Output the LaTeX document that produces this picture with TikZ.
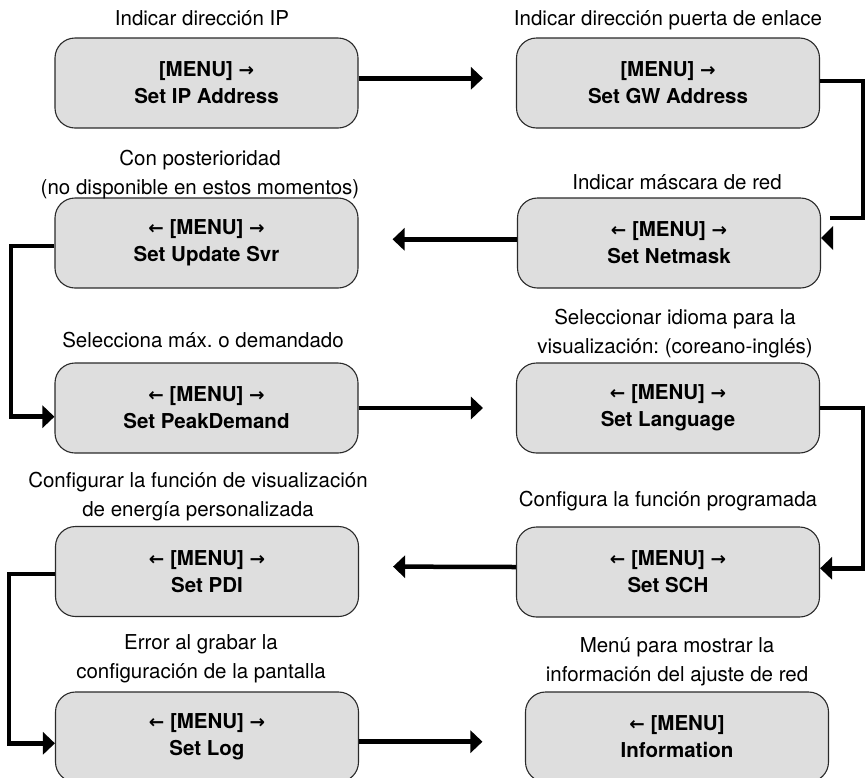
\documentclass[tikz,border=0pt]{standalone}
\usepackage{fontspec}
\setmainfont{TeX Gyre Heros}
\newfontfamily\arrowfont{DejaVu Sans}
\newcommand{\ra}{{\arrowfont\bfseries\fontsize{18.5}{18}\selectfont →}}
\newcommand{\la}{{\arrowfont\bfseries\fontsize{18.5}{18}\selectfont ←}}
\usetikzlibrary{arrows.meta}
\definecolor{boxfill}{HTML}{DEDEDE}
\definecolor{boxline}{HTML}{2A2A2A}
\frenchspacing
\begin{document}
\begin{tikzpicture}[x=1pt,y=-1pt,
  menubox/.style={draw=boxline, line width=1.1pt, fill=boxfill, rounded corners=20pt,
    minimum width=303pt, minimum height=90pt, align=center, inner sep=0pt,
    font=\fontsize{20.5}{27}\selectfont\bfseries},
  lbl/.style={align=center, inner sep=0pt, anchor=south, text depth=0pt,
    font=\fontsize{20.5}{29.5}\selectfont},
  link/.style={line width=4.5pt, -{Triangle[length=12pt,width=22pt]}},
  plainlink/.style={line width=4.5pt}]
\useasboundingbox (0,0) rectangle (866,777);

% boxes
\node[menubox] (ip)   at (206.5,83)  {[MENU] \ra\\Set IP Address};
\node[menubox] (gw)   at (668,83)    {[MENU] \ra\\Set GW Address};
\node[menubox] (ns)   at (669,243)   {\la\ [MENU] \ra\\Set Netmask};
\node[menubox] (us)   at (206.5,243) {\la\ [MENU] \ra\\Set Update Svr};
\node[menubox] (pd)   at (206.5,408) {\la\ [MENU] \ra\\Set PeakDemand};
\node[menubox] (lang) at (668,408)   {\la\ [MENU] \ra\\Set Language};
\node[menubox] (sch)  at (668,572)   {\la\ [MENU] \ra\\Set SCH};
\node[menubox] (pdi)  at (207,571.5) {\la\ [MENU] \ra\\Set PDI};
\node[menubox] (log)  at (207,737)   {\la\ [MENU] \ra\\Set Log};
\node[menubox] (info) at (677,737)   {\la\ [MENU]\\Information};

% labels
\node[lbl] (t1) at (202,26)  {Indicar dirección IP};
\node[lbl] (t2) at (668,26)  {Indicar dirección puerta de enlace};
\node[lbl] (t3) at (677,190) {Indicar máscara de red};
\node[lbl] (t4) at (200,195) {Con posterioridad\\(no disponible en estos momentos)};
\node[lbl] (t5) at (203,348) {Selecciona máx. o demandado};
\node[lbl] (t6) at (675,354) {Seleccionar idioma para la\\visualización: (coreano-inglés)};
\node[lbl] (t7) at (668,507) {Configura la función programada};
\node[lbl] (t8) at (198,517) {Configurar la función de visualización\\de energía personalizada};
\node[lbl] (t9) at (201,679) {Error al grabar la\\configuración de la pantalla};
\node[lbl] (t10) at (677,682) {Menú para mostrar la\\información del ajuste de red};

% connectors
\draw[link, shorten >=33pt] ([yshift=4.7pt]ip.east) -- ([yshift=4.7pt]gw.west);
\coordinate (gwend) at (830,218);
\draw[plainlink] ([yshift=2pt]gw.east) -- ++(43,0) |- (gwend);
\fill ([yshift=5pt]ns.east) -- ++(12,-12) -- ++(0,24) -- cycle;
\draw[link, shorten >=34pt] ([yshift=3.7pt]ns.west) -- ([yshift=3.7pt]us.east);
\draw[link] ([yshift=-3pt]us.west) -- ++(-43.5,0) |- ([yshift=-8.7pt]pd.west);
\draw[link, shorten >=33pt] (pd.east) -- (lang.west);
\draw[link] (lang.east) -- ++(43,0) |- ([yshift=3.7pt]sch.east);
\draw[link, shorten >=34pt] ([yshift=5pt]sch.west) -- ([yshift=5pt]pdi.east);
\draw[link] ([yshift=-2.5pt]pdi.west) -- ++(-46,0) |- ([yshift=-6.3pt]log.west);
\draw[link, shorten >=42.5pt] ([yshift=-4.7pt]log.east) -- ([yshift=-4.7pt]info.west);
\end{tikzpicture}
\end{document}
